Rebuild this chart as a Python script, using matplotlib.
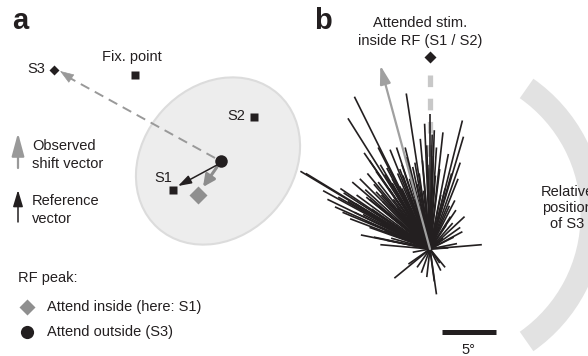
import matplotlib
matplotlib.use('Agg')
import matplotlib.pyplot as plt
from matplotlib.patches import Ellipse, Wedge, FancyArrowPatch
from matplotlib.collections import LineCollection

plt.rcParams['font.family'] = ['Liberation Sans', 'DejaVu Sans']

W, H = 588, 356
INK = '#231f20'
GREY = '#999999'

# --- panel a: schematic layout (pixel positions, y pointing down) ---
fix_point = (135, 75)
stim_names = ['S1', 'S2', 'S3']
stim_x = [173, 254, 54]
stim_y = [190, 117, 70]
rf_center = (218, 161)
rf_size = (180, 150)
rf_angle = -48
peak_outside = (221, 161)
peak_inside = (198, 195)

# --- panel b: RF shift vectors of single cells (deg visual angle) ---
shift_dx = [-7.0, -7.6, -2.2, 0.0, 0.4, 0.6, 3.0, 3.1, -6.1, -4.8,
            -3.7, -3.1, -2.3, -0.7, -4.6, -1.4, -12.0, -11.5, -9.9, -8.1,
            -5.9, -5.0, -4.6, -4.0, -5.6, -4.8, -3.5, 4.8, 3.0, 2.1,
            1.9, 2.3, 0.6, -3.3, -1.2, 1.4, 0.9, -1.6, 1.7, -4.2,
            -6.5, -2.8, -1.9, -5.4, -6.9, -3.7, -8.3, -2.6, -0.9, 0.9,
            1.7, -0.5, -8.8, -3.2, -5.6, -4.2, -7.4, 1.4, 2.6, -1.4,
            -3.0, -3.5, -4.0, -2.2, -2.5, -3.8, -4.5, -5.2, -6.0, -4.4,
            -3.0, -2.0, -1.2, -1.6, -5.0, -5.8, -6.8, -7.6, -6.2, -5.0,
            -4.0, -3.0, -2.4, -7.0, -8.5, -9.5, -6.4, -5.2, -3.6, -2.6,
            0.3, 0.5, -0.3, 1.2, 2.0, 2.8, 2.2, 2.8, 1.5, 3.2,
            1.2, 2.5, -0.3, 0.4, -0.8, 1.0, -2.0,
            -2.8, -3.4, -4.8, -5.6, -2.0, -1.2, -3.9, -4.6, -3.2, -1.8,
            -0.8, -6.0, -2.6, -1.0, -0.2, 0.2, -0.6, 1.0, 1.8, 2.4,
            -7.2, -8.0]
shift_dy = [14.1, 12.1, 14.4, 12.5, 11.0, 9.4, 11.9, 10.4, 8.9, 9.4,
            9.2, 9.4, 9.4, 8.2, 7.8, 8.0, 7.2, 7.0, 5.4, 3.4,
            4.8, 5.3, 0.4, 0.8, 8.2, 6.2, 6.1, 0.4, 1.6, 2.4,
            3.0, 4.5, -4.2, -2.7, -1.7, -1.7, -1.3, -0.3, 0.1, 6.9,
            6.5, 7.4, 6.5, 3.7, 4.2, 4.2, 5.6, 5.6, 10.2, 7.4,
            8.8, 11.6, 3.9, 2.8, 2.0, 1.7, 2.8, 5.6, 6.5, 4.6,
            7.0, 6.5, 7.5, 8.5, 6.8, 5.6, 5.0, 6.0, 5.5, 4.4,
            4.8, 5.2, 6.0, 7.6, 7.2, 7.0, 5.0, 4.4, 3.2, 3.0,
            3.4, 3.8, 3.0, 3.4, 4.8, 4.6, 1.3, 1.1, 1.0, 1.6,
            8.6, 6.8, 9.6, 10.8, 7.0, 8.0, 1.1, 2.0, 2.2, 3.0,
            1.0, 0.5, -2.6, -3.0, -2.2, -2.0, -1.4,
            5.8, 4.6, 4.0, 4.6, 4.0, 4.2, 2.6, 2.4, 2.0, 2.2,
            3.0, 2.6, 7.8, 7.0, 7.8, 10.6, 5.4, 5.0, 4.0, 3.6,
            6.2, 5.2]
mean_shift = (-4.6, 17.0)
attended_stim = (0.0, 17.8)
s3_arc_center = (0.74, 3.15)
s3_arc_radius = 15.4
s3_arc_width = 2.2
s3_arc_span = (-55, 55)
scale_bar_deg = 5

PX_PER_DEG = 10.8
ORIGIN = (430, 249)


def arrow(ax, start, end, color, lw, head_len, head_wid, **kw):
    style = f'-|>,head_length={head_len},head_width={head_wid}'
    ax.add_patch(FancyArrowPatch(start, end, arrowstyle=style, color=color,
                                 lw=lw, shrinkA=0, shrinkB=0,
                                 mutation_scale=1, **kw))


def label(x, y, s, **kw):
    kw.setdefault('fontsize', 10.5)
    kw.setdefault('color', INK)
    kw.setdefault('va', 'center')
    fig.text(x / W, 1 - y / H, s, **kw)


fig = plt.figure(figsize=(W / 100, H / 100), dpi=100)

# panel a
ax_a = fig.add_axes([0, 0, 1, 1])
ax_a.set_xlim(0, W)
ax_a.set_ylim(H, 0)
ax_a.axis('off')

ax_a.add_patch(Ellipse(rf_center, rf_size[0], rf_size[1], angle=rf_angle,
                       facecolor='#ededed', edgecolor='#dcdcdc', lw=1.5))

# shift toward S3 (dashed, with solid head)
ax_a.plot([peak_outside[0] - 6, stim_x[2] + 14], [peak_outside[1] - 3, stim_y[2] + 7],
          color=GREY, lw=1.4, dashes=(5, 3.2))
arrow(ax_a, (stim_x[2] + 18, stim_y[2] + 9), (stim_x[2] + 6, stim_y[2] + 1),
      GREY, 0.5, 9, 3.2)

arrow(ax_a, (peak_outside[0] - 4, peak_outside[1] + 4), (stim_x[0] + 5, stim_y[0] - 4),
      INK, 1.1, 8, 2.6, zorder=4)
arrow(ax_a, (peak_outside[0] - 4, peak_outside[1] + 6), (peak_inside[0] + 5, peak_inside[1] - 8),
      '#8c8c8c', 2.2, 7, 3.4, zorder=3)

ax_a.plot(*peak_inside, marker='D', ms=9.5, color='#8f8f8f', mec='none', zorder=3)
ax_a.plot(*peak_outside, marker='o', ms=9, color=INK, mec='none', zorder=5)
ax_a.plot(stim_x[:2], stim_y[:2], 's', ms=6, color=INK, mec='none', zorder=5)
ax_a.plot(stim_x[2], stim_y[2], 'D', ms=5.6, color=INK, mec='none', zorder=5)
ax_a.plot(*fix_point, 's', ms=6.2, color=INK, mec='none')

# legend
arrow(ax_a, (18, 168), (18, 133), GREY, 1.6, 14, 3.8)
arrow(ax_a, (18, 222), (18, 190), INK, 1.1, 10, 3.0)
ax_a.plot(27, 307, 'D', ms=8.6, color='#8f8f8f', mec='none')
ax_a.plot(27, 332, 'o', ms=9.5, color=INK, mec='none')

# panel b
ax_b = fig.add_axes([290 / W, 0, (W - 290) / W, 1])
ax_b.set_xlim((290 - ORIGIN[0]) / PX_PER_DEG, (W - ORIGIN[0]) / PX_PER_DEG)
ax_b.set_ylim((ORIGIN[1] - H) / PX_PER_DEG, ORIGIN[1] / PX_PER_DEG)
ax_b.axis('off')
ax_b.patch.set_alpha(0)

ax_b.add_patch(Wedge(s3_arc_center, s3_arc_radius, s3_arc_span[0], s3_arc_span[1],
                     width=s3_arc_width, facecolor='#e2e2e2', edgecolor='none'))

ax_b.plot([0, 0], [attended_stim[1] - 1.7, 0], color='#c8c8c8', lw=3.8,
          linestyle=(0, (2.2, 2.2)), solid_capstyle='butt', zorder=1)
ax_b.plot(*attended_stim, 'D', ms=6, color=INK, mec='none')

segs = [[(0, 0), (dx, dy)] for dx, dy in zip(shift_dx, shift_dy)]
ax_b.add_collection(LineCollection(segs, colors=INK, linewidths=1.2, zorder=2))
arrow(ax_b, (0, 0), mean_shift, '#a0a0a0', 1.6, 11, 3.2, zorder=3)

ax_b.plot([1.1, 1.1 + scale_bar_deg], [-7.7, -7.7], color=INK, lw=3.6,
          solid_capstyle='butt')

# text
label(12, 21, 'a', fontsize=21, fontweight='bold')
label(314, 21, 'b', fontsize=21, fontweight='bold')
label(132, 57, 'Fix. point', ha='center')
for name, x, y in zip(stim_names, stim_x, stim_y):
    if name == 'S1':
        label(x - 1, y - 12, name, ha='right')
    else:
        label(x - 9, y - 1, name, ha='right')
label(32, 155, 'Observed\nshift vector', linespacing=1.45)
label(32, 210, 'Reference\nvector', linespacing=1.45)
label(18, 278, 'RF peak:')
label(47, 307, 'Attend inside (here: S1)')
label(47, 332, 'Attend outside (S3)')
label(420, 32, 'Attended stim.\ninside RF (S1 / S2)', ha='center', linespacing=1.45)
label(567, 208, 'Relative\nposition\nof S3', ha='center', linespacing=1.2)
label(468, 350, f'{scale_bar_deg}°', ha='center')

fig.savefig('out.png', dpi=100)
